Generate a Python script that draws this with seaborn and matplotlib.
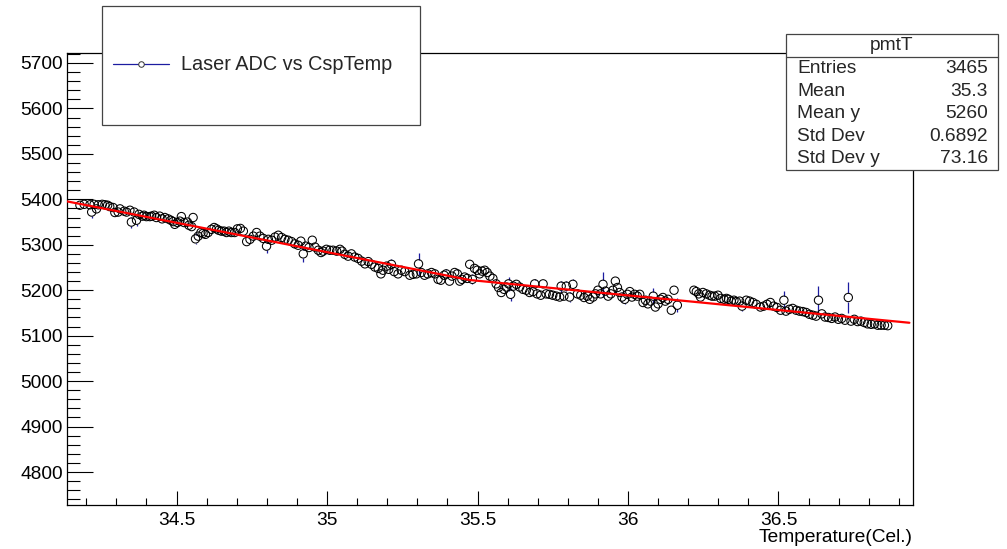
import matplotlib
matplotlib.use("Agg")
import matplotlib.pyplot as plt
import numpy as np
import pandas as pd
import seaborn as sns
from matplotlib.patches import Rectangle
from matplotlib.lines import Line2D
from matplotlib.ticker import MultipleLocator

# ---------------- data ----------------
TEMP = [
    34.179, 34.193, 34.212, 34.218, 34.226, 34.234, 34.240, 34.253, 34.262, 34.271,
    34.278, 34.289, 34.295, 34.306, 34.312, 34.326, 34.334, 34.345, 34.350, 34.359,
    34.367, 34.375, 34.386, 34.392, 34.400, 34.411, 34.417, 34.426, 34.433, 34.444,
    34.452, 34.461, 34.472, 34.481, 34.489, 34.494, 34.503, 34.511, 34.516, 34.525,
    34.536, 34.541, 34.550, 34.555, 34.563, 34.572, 34.581, 34.588, 34.596, 34.605,
    34.616, 34.625, 34.633, 34.640, 34.649, 34.658, 34.666, 34.674, 34.682, 34.693,
    34.702, 34.712, 34.722, 34.733, 34.744, 34.755, 34.766, 34.777, 34.788, 34.799,
    34.805, 34.816, 34.827, 34.838, 34.849, 34.860, 34.871, 34.882, 34.893, 34.904,
    34.913, 34.921, 34.929, 34.940, 34.951, 34.960, 34.971, 34.980, 34.987, 34.998,
    35.009, 35.020, 35.032, 35.043, 35.050, 35.059, 35.070, 35.081, 35.092, 35.103,
    35.115, 35.126, 35.137, 35.148, 35.159, 35.170, 35.179, 35.186, 35.198, 35.205,
    35.214, 35.223, 35.236, 35.247, 35.258, 35.275, 35.286, 35.297, 35.304, 35.313,
    35.324, 35.335, 35.347, 35.358, 35.369, 35.378, 35.389, 35.396, 35.407, 35.415,
    35.424, 35.433, 35.441, 35.448, 35.457, 35.466, 35.474, 35.483, 35.490, 35.499,
    35.507, 35.515, 35.524, 35.532, 35.541, 35.551, 35.562, 35.570, 35.579, 35.588,
    35.596, 35.603, 35.610, 35.619, 35.629, 35.640, 35.651, 35.662, 35.673, 35.684,
    35.690, 35.698, 35.710, 35.718, 35.728, 35.739, 35.750, 35.762, 35.773, 35.778,
    35.787, 35.795, 35.806, 35.817, 35.832, 35.843, 35.854, 35.865, 35.873, 35.884,
    35.892, 35.900, 35.909, 35.917, 35.925, 35.934, 35.943, 35.950, 35.958, 35.965,
    35.972, 35.980, 35.989, 35.998, 36.006, 36.013, 36.022, 36.031, 36.039, 36.050,
    36.058, 36.066, 36.075, 36.084, 36.091, 36.100, 36.108, 36.116, 36.124, 36.133,
    36.144, 36.153, 36.164, 36.219, 36.227, 36.235, 36.241, 36.249, 36.260, 36.271,
    36.279, 36.288, 36.299, 36.308, 36.319, 36.327, 36.334, 36.343, 36.352, 36.360,
    36.371, 36.379, 36.393, 36.404, 36.415, 36.426, 36.440, 36.451, 36.462, 36.473,
    36.484, 36.495, 36.507, 36.518, 36.525, 36.536, 36.547, 36.559, 36.570, 36.581,
    36.592, 36.603, 36.614, 36.625, 36.633, 36.644, 36.655, 36.666, 36.677, 36.688,
    36.699, 36.710, 36.721, 36.732, 36.741, 36.752, 36.763, 36.774, 36.785, 36.796,
    36.808, 36.819, 36.830, 36.841, 36.852, 36.863,
]
ADC = [
    5387, 5389, 5388, 5372, 5389, 5379, 5388, 5389, 5388, 5387,
    5384, 5382, 5371, 5372, 5379, 5374, 5372, 5376, 5350, 5372,
    5354, 5367, 5363, 5365, 5362, 5362, 5363, 5365, 5360, 5363,
    5357, 5360, 5357, 5354, 5351, 5345, 5349, 5352, 5362, 5349,
    5350, 5343, 5340, 5360, 5313, 5319, 5327, 5325, 5323, 5327,
    5334, 5338, 5335, 5332, 5330, 5330, 5327, 5330, 5327, 5327,
    5335, 5336, 5330, 5307, 5312, 5319, 5327, 5319, 5314, 5297,
    5312, 5310, 5317, 5321, 5316, 5312, 5310, 5307, 5302, 5299,
    5308, 5280, 5297, 5294, 5310, 5295, 5288, 5283, 5286, 5290,
    5288, 5288, 5286, 5290, 5286, 5279, 5275, 5280, 5273, 5270,
    5264, 5258, 5263, 5257, 5251, 5248, 5236, 5244, 5253, 5246,
    5257, 5241, 5236, 5244, 5241, 5233, 5235, 5236, 5258, 5239,
    5233, 5236, 5239, 5236, 5224, 5222, 5233, 5236, 5220, 5231,
    5239, 5236, 5220, 5224, 5229, 5226, 5257, 5224, 5248, 5244,
    5236, 5242, 5244, 5239, 5231, 5226, 5214, 5206, 5195, 5202,
    5207, 5214, 5191, 5209, 5213, 5207, 5202, 5200, 5195, 5197,
    5214, 5192, 5189, 5214, 5192, 5191, 5189, 5187, 5185, 5209,
    5187, 5209, 5185, 5213, 5192, 5189, 5184, 5187, 5180, 5185,
    5192, 5200, 5192, 5213, 5198, 5187, 5192, 5200, 5220, 5206,
    5195, 5185, 5180, 5191, 5197, 5185, 5191, 5187, 5191, 5173,
    5178, 5170, 5176, 5187, 5163, 5170, 5180, 5184, 5176, 5180,
    5156, 5200, 5167, 5200, 5197, 5192, 5185, 5195, 5192, 5189,
    5187, 5187, 5189, 5182, 5180, 5182, 5180, 5176, 5178, 5175,
    5176, 5165, 5178, 5176, 5173, 5169, 5163, 5165, 5169, 5173,
    5165, 5162, 5156, 5178, 5154, 5158, 5160, 5156, 5154, 5153,
    5151, 5147, 5145, 5143, 5178, 5148, 5141, 5140, 5138, 5141,
    5136, 5138, 5134, 5184, 5132, 5136, 5131, 5132, 5129, 5126,
    5125, 5126, 5123, 5123, 5123, 5122,
]
ADC_ERR = [
    3, 3, 3, 12, 3, 3, 3, 3, 3, 3,
    3, 3, 3, 3, 3, 3, 3, 3, 12, 3,
    12, 3, 3, 3, 3, 3, 3, 3, 3, 3,
    3, 3, 3, 3, 3, 3, 3, 3, 3, 3,
    3, 3, 3, 10, 12, 3, 3, 3, 3, 3,
    3, 3, 3, 3, 3, 3, 3, 3, 3, 3,
    3, 3, 3, 3, 3, 3, 3, 3, 3, 15,
    3, 3, 3, 3, 3, 3, 3, 3, 3, 3,
    10, 18, 3, 3, 3, 3, 3, 3, 3, 3,
    3, 3, 3, 3, 3, 3, 3, 3, 3, 3,
    3, 3, 3, 3, 3, 3, 3, 3, 3, 3,
    11, 3, 3, 3, 3, 3, 3, 3, 25, 3,
    3, 3, 3, 3, 3, 3, 3, 10, 3, 3,
    10, 10, 3, 3, 3, 3, 3, 11, 3, 3,
    3, 3, 3, 3, 3, 3, 3, 3, 11, 3,
    3, 15, 14, 3, 10, 3, 3, 3, 3, 3,
    10, 3, 3, 3, 3, 3, 3, 3, 3, 12,
    3, 11, 11, 11, 3, 3, 3, 3, 3, 3,
    3, 10, 3, 28, 3, 3, 3, 3, 3, 3,
    3, 11, 11, 3, 3, 3, 3, 3, 3, 3,
    3, 3, 3, 17, 3, 3, 3, 3, 3, 3,
    3, 3, 15, 3, 3, 3, 3, 3, 3, 3,
    3, 3, 3, 3, 3, 3, 3, 3, 3, 3,
    3, 11, 3, 3, 3, 3, 3, 3, 3, 3,
    3, 3, 3, 20, 3, 3, 3, 3, 3, 3,
    3, 3, 3, 3, 31, 3, 3, 3, 3, 3,
    3, 3, 3, 34, 3, 3, 3, 3, 3, 3,
    3, 3, 3, 3, 3, 3,
]

# fitted line (piecewise, as drawn in red)
FIT_TEMP = [34.136, 35.474, 36.935]
FIT_ADC = [5395.5, 5222.5, 5128.4]

X_TICKS = [34.5, 35.0, 35.5, 36.0, 36.5]
X_TICK_LABELS = ["34.5", "35", "35.5", "36", "36.5"]
Y_TICKS = [4800, 4900, 5000, 5100, 5200, 5300, 5400, 5500, 5600, 5700]

X_LABEL = "Temperature(Cel.)"
LEGEND_LABEL = "Laser ADC vs CspTemp"
STATS_TITLE = "pmtT"
STATS_NAMES = ["Entries", "Mean", "Mean y", "Std Dev", "Std Dev y"]
STATS_VALUES = ["3465", "35.3", "5260", "0.6892", "73.16"]

# ---------------- style ----------------
sns.set_theme(style="ticks")
plt.rcParams["font.family"] = ["Liberation Sans", "DejaVu Sans"]

W, H = 1007, 549
BLUE = "#1c1ca0"
FS = 13.8
MARKER_S = 36          # points^2
MARKER_RADIUS_PX = np.sqrt(MARKER_S) / 2 * 100 / 72

fig = plt.figure(figsize=(W / 100, H / 100), dpi=100)
fig.patch.set_facecolor("white")


def fx(px):
    return px / W


def fy(py):
    return 1 - py / H


ax = fig.add_axes([fx(67), fy(505), fx(913) - fx(67), fy(53) - fy(505)])
ax.set_facecolor("white")
ax.set_xlim(34.136, 36.947)
ax.set_ylim(4727.4, 5722)

df = pd.DataFrame({"temp": TEMP, "adc": ADC, "err": ADC_ERR})

# error bars drawn only outside the marker (ROOT style)
px_per_unit = (505 - 53) / (ax.get_ylim()[1] - ax.get_ylim()[0])
r_data = MARKER_RADIUS_PX / px_per_unit
vis = df[df["err"] > r_data]
ax.vlines(vis["temp"], vis["adc"] + r_data, vis["adc"] + vis["err"],
          color=BLUE, linewidth=0.9, zorder=2)
ax.vlines(vis["temp"], vis["adc"] - vis["err"], vis["adc"] - r_data,
          color=BLUE, linewidth=0.9, zorder=2)

sns.scatterplot(data=df, x="temp", y="adc", ax=ax, marker="o", s=MARKER_S,
                facecolor="none", edgecolor="black", linewidth=0.75,
                zorder=3, legend=False)
fit_df = pd.DataFrame({"temp": FIT_TEMP, "adc": FIT_ADC})
sns.lineplot(data=fit_df, x="temp", y="adc", ax=ax, color="#ff0000",
             linewidth=1.6, zorder=4, legend=False)

ax.set_xlim(34.136, 36.947)
ax.set_ylim(4727.4, 5722)
ax.set_xticks(X_TICKS, X_TICK_LABELS)
ax.set_yticks(Y_TICKS, [str(v) for v in Y_TICKS])
ax.xaxis.set_minor_locator(MultipleLocator(0.1))
ax.yaxis.set_minor_locator(MultipleLocator(20))
ax.set_xlabel("")
ax.set_ylabel("")

ax.tick_params(axis="both", which="both", direction="in", colors="black",
               labelsize=FS, width=0.8, top=False, right=False,
               bottom=True, left=True)
ax.tick_params(axis="x", which="major", length=10, pad=5)
ax.tick_params(axis="x", which="minor", length=5)
ax.tick_params(axis="y", which="major", length=18.7, pad=3)
ax.tick_params(axis="y", which="minor", length=9.4)
for sp in ax.spines.values():
    sp.set_visible(True)
    sp.set_color("black")
    sp.set_linewidth(0.9)

fig.text(fx(913), fy(537), X_LABEL, ha="right", va="center", fontsize=FS,
         color="black")

# ---------------- legend box ----------------
fig.add_artist(Rectangle((fx(102), fy(125)), fx(420) - fx(102), fy(6) - fy(125),
                         transform=fig.transFigure, facecolor="white",
                         edgecolor="#444444", linewidth=0.9, zorder=4))
handle = Line2D([], [], color=BLUE, linewidth=0.9, marker="o", markersize=4,
                markerfacecolor="white", markeredgecolor="#333333",
                markeredgewidth=0.7)
leg = fig.legend([handle], [LEGEND_LABEL], loc="center left",
                 bbox_to_anchor=(fx(113), fy(65)), bbox_transform=fig.transFigure,
                 frameon=False, borderpad=0, borderaxespad=0, fontsize=14.3,
                 handlelength=2.8, handletextpad=0.62)
leg.set_zorder(6)

# ---------------- stats box ----------------
fig.add_artist(Rectangle((fx(786), fy(170)), fx(998) - fx(786), fy(34) - fy(170),
                         transform=fig.transFigure, facecolor="white",
                         edgecolor="#444444", linewidth=0.9, zorder=4))
fig.add_artist(Line2D([fx(786), fx(998)], [fy(57), fy(57)],
                      transform=fig.transFigure, color="#444444",
                      linewidth=0.9, zorder=5))
fig.text(fx(892), fy(45.5), STATS_TITLE, ha="center", va="center",
         fontsize=FS, zorder=6)
for i, (nm, val) in enumerate(zip(STATS_NAMES, STATS_VALUES)):
    yy = 68.5 + i * 22.6
    fig.text(fx(797), fy(yy), nm, ha="left", va="center", fontsize=FS, zorder=6)
    fig.text(fx(988), fy(yy), val, ha="right", va="center", fontsize=FS, zorder=6)

fig.savefig("out.png", dpi=100, facecolor="white")
